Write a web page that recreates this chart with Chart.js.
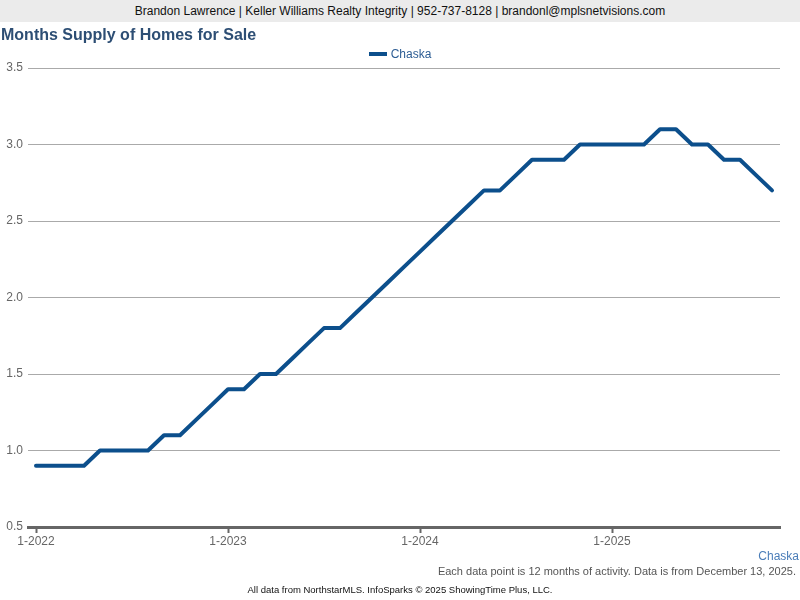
<!DOCTYPE html>
<html>
<head>
<meta charset="utf-8">
<script src="https://cdn.jsdelivr.net/npm/chart.js@4"></script>
<style>
  html,body{margin:0;padding:0;background:#fff;width:800px;height:600px;overflow:hidden;font-family:"Liberation Sans",Arial,sans-serif;}
  #header{position:absolute;left:0;top:0;width:800px;height:22px;background:#ebebeb;color:#111;font-size:12px;line-height:22px;text-align:center;}
  #title{position:absolute;left:1px;top:26px;font-size:16px;font-weight:bold;color:#2d4e74;}
  #legend{position:absolute;left:0;top:47px;width:800px;text-align:center;font-size:12px;color:#2d5d94;}
  #legend span.sw{display:inline-block;width:18px;height:4px;background:#0c4f8c;vertical-align:middle;margin-right:4px;position:relative;top:-1px;}
  #area{position:absolute;left:0;top:0;width:800px;height:600px;}
  #series{position:absolute;right:1px;top:549px;font-size:12px;color:#4a7db8;}
  #note{position:absolute;right:4px;top:565px;font-size:11px;color:#555;}
  #foot{position:absolute;left:0;top:584px;width:800px;text-align:center;font-size:9.5px;color:#111;}
</style>
</head>
<body>
<div id="area"><canvas id="c" width="800" height="600"></canvas></div>
<div id="header">Brandon Lawrence | Keller Williams Realty Integrity | 952-737-8128 | brandonl@mplsnetvisions.com</div>
<div id="title">Months Supply of Homes for Sale</div>
<div id="legend"><span class="sw"></span>Chaska</div>
<div id="series">Chaska</div>
<div id="note">Each data point is 12 months of activity. Data is from December 13, 2025.</div>
<div id="foot">All data from NorthstarMLS. InfoSparks © 2025 ShowingTime Plus, LLC.</div>
<script>
const months = [
  "1-2022","2-2022","3-2022","4-2022","5-2022","6-2022","7-2022","8-2022","9-2022","10-2022","11-2022","12-2022",
  "1-2023","2-2023","3-2023","4-2023","5-2023","6-2023","7-2023","8-2023","9-2023","10-2023","11-2023","12-2023",
  "1-2024","2-2024","3-2024","4-2024","5-2024","6-2024","7-2024","8-2024","9-2024","10-2024","11-2024","12-2024",
  "1-2025","2-2025","3-2025","4-2025","5-2025","6-2025","7-2025","8-2025","9-2025","10-2025","11-2025"
];
const chaska = [
  0.9,0.9,0.9,0.9,1.0,1.0,1.0,1.0,1.1,1.1,1.2,1.3,
  1.4,1.4,1.5,1.5,1.6,1.7,1.8,1.8,1.9,2.0,2.1,2.2,
  2.3,2.4,2.5,2.6,2.7,2.7,2.8,2.9,2.9,2.9,3.0,3.0,
  3.0,3.0,3.0,3.1,3.1,3.0,3.0,2.9,2.9,2.8,2.7
];
const yTicks = [0.5,1.0,1.5,2.0,2.5,3.0,3.5];
const seriesName = "Chaska";

const isJan = (lbl) => lbl.startsWith("1-");

new Chart(document.getElementById('c'), {
  type: 'line',
  data: {
    labels: months,
    datasets: [{
      label: seriesName,
      data: chaska,
      borderColor: '#0c4f8c',
      borderWidth: 4,
      pointRadius: 0,
      tension: 0,
      fill: false,
      borderJoinStyle: 'round',
      borderCapStyle: 'round'
    }]
  },
  options: {
    responsive: false,
    animation: false,
    devicePixelRatio: 1,
    layout: { padding: { top: 68, right: 20, left: 1, bottom: 43 } },
    plugins: { legend: { display: false }, tooltip: { enabled: false }, title: { display: false } },
    scales: {
      x: {
        type: 'category',
        offset: true,
        afterFit: (s) => { s.height = 30; },
        grid: {
          offset: false,
          drawOnChartArea: false,
          drawTicks: true,
          tickLength: 6,
          tickWidth: 2,
          color: (ctx) => (ctx.tick && isJan(months[ctx.tick.value])) ? '#666' : 'rgba(0,0,0,0)'
        },
        border: { display: true, color: '#666', width: 3 },
        ticks: {
          autoSkip: false,
          maxRotation: 0,
          padding: 1,
          color: '#666',
          font: { family: '"Liberation Sans", Arial', size: 12 },
          callback: function(v, i) { return isJan(months[i]) ? months[i] : ''; }
        }
      },
      y: {
        min: 0.5, max: 3.5,
        afterFit: (s) => { s.width = 27; },
        afterBuildTicks: (s) => { s.ticks = yTicks.map(v => ({ value: v })); },
        grid: { color: '#aaa', lineWidth: 1, drawTicks: false },
        border: { display: false },
        ticks: {
          padding: 5,
          color: '#666',
          font: { family: '"Liberation Sans", Arial', size: 12 },
          callback: (v) => Number(v).toFixed(1)
        }
      }
    }
  }
});
</script>
</body>
</html>
